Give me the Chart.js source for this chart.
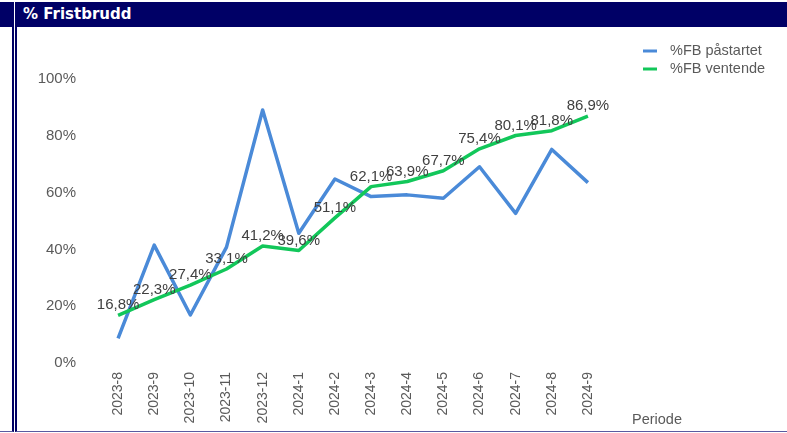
<!DOCTYPE html>
<html>
<head>
<meta charset="utf-8">
<script src="https://cdn.jsdelivr.net/npm/chart.js@4"></script>
<style>
  html, body { margin: 0; padding: 0; background: #fff; width: 787px; height: 433px; overflow: hidden; }
  .side { position: absolute; left: 0; top: 2px; width: 12px; height: 429px; border-right: 2px solid #000066; border-bottom: 1px solid #5a5aa0; }
  .side .bar { height: 25px; background: #000066; }
  .panel { position: absolute; left: 15px; top: 2px; width: 772px; height: 429px; border-left: 2px solid #000066; border-bottom: 1px solid #5a5aa0; }
  .title { height: 25px; background: #000066; color: #fff; font: bold 15px "DejaVu Sans", Verdana, sans-serif; line-height: 25px; padding-left: 6px; }
  .wrap { position: absolute; left: 0; top: 25px; width: 770px; height: 404px; }
</style>
</head>
<body>
<div class="side"><div class="bar"></div></div>
<div class="panel">
  <div class="title">% Fristbrudd</div>
  <div class="wrap"><canvas id="chart"></canvas></div>
</div>
<script>
const periods = ["2023-8", "2023-9", "2023-10", "2023-11", "2023-12", "2024-1", "2024-2",
  "2024-3", "2024-4", "2024-5", "2024-6", "2024-7", "2024-8", "2024-9"];
const fbPastartet = [8.7, 41.5, 16.9, 40.8, 89.1, 45.7, 64.8, 58.6, 59.2, 58.0, 69.1, 52.7, 75.2, 63.5];
const fbVentende = [16.8, 22.3, 27.4, 33.1, 41.2, 39.6, 51.1, 62.1, 63.9, 67.7, 75.4, 80.1, 81.8, 86.9];
const yTicks = [0, 20, 40, 60, 80, 100];

const FONT = "'Liberation Sans', Arial, sans-serif";
const BLUE = "#4a8ad8";
const GREEN = "#12c75a";

// value labels on the green series, legend and axis title
const extras = {
  id: "extras",
  afterDatasetsDraw(chart) {
    const ctx = chart.ctx;
    const meta = chart.getDatasetMeta(1);
    ctx.save();
    ctx.font = "15px " + FONT;
    ctx.fillStyle = "#404040";
    ctx.textAlign = "center";
    ctx.textBaseline = "middle";
    meta.data.forEach((pt, i) => {
      const txt = fbVentende[i].toFixed(1).replace(".", ",") + "%";
      ctx.fillText(txt, pt.x, pt.y - 10);
    });
    ctx.restore();
  },
  afterDraw(chart) {
    const ctx = chart.ctx;
    const area = chart.chartArea;
    ctx.save();
    // legend
    const lx = area.right + 37;
    chart.data.datasets.forEach((ds, i) => {
      const y = 24 + i * 18;
      ctx.strokeStyle = ds.borderColor;
      ctx.lineWidth = 3;
      ctx.beginPath();
      ctx.moveTo(lx, y);
      ctx.lineTo(lx + 14, y);
      ctx.stroke();
      ctx.font = "14.5px " + FONT;
      ctx.fillStyle = "#5a5a5a";
      ctx.textAlign = "left";
      ctx.textBaseline = "middle";
      ctx.fillText(ds.label, lx + 27, y);
    });
    // x axis title
    ctx.font = "14.5px " + FONT;
    ctx.fillStyle = "#5a5a5a";
    ctx.textAlign = "left";
    ctx.textBaseline = "middle";
    ctx.fillText("Periode", area.right + 26, chart.scales.x.bottom - 11);
    ctx.restore();
  },
};

new Chart(document.getElementById("chart"), {
  type: "line",
  data: {
    labels: periods,
    datasets: [
      {
        label: "%FB påstartet",
        data: fbPastartet,
        borderColor: BLUE,
        backgroundColor: BLUE,
        borderWidth: 3.5,
        borderJoinStyle: "round",
        pointRadius: 0,
        tension: 0,
        order: 1,
      },
      {
        label: "%FB ventende",
        data: fbVentende,
        borderColor: GREEN,
        backgroundColor: GREEN,
        borderWidth: 3.5,
        borderJoinStyle: "round",
        pointRadius: 0,
        tension: 0,
        order: 0,
      },
    ],
  },
  options: {
    responsive: true,
    maintainAspectRatio: false,
    animation: false,
    layout: { padding: { left: 0, right: 181, top: 52, bottom: 0 } },
    plugins: {
      legend: { display: false },
      tooltip: { enabled: false },
    },
    scales: {
      x: {
        offset: true,
        grid: { display: false, drawTicks: false },
        border: { display: false },
        ticks: {
          minRotation: 90,
          maxRotation: 90,
          autoSkip: false,
          padding: 9,
          color: "#5a5a5a",
          font: { family: FONT, size: 14 },
        },
        afterFit(scale) { scale.height = 68; },
      },
      y: {
        min: 0,
        max: 100,
        grid: { display: false, drawTicks: false },
        border: { display: false },
        afterBuildTicks(scale) { scale.ticks = yTicks.map((v) => ({ value: v })); },
        ticks: {
          padding: 24,
          color: "#5a5a5a",
          font: { family: FONT, size: 15 },
          callback: (v) => v + "%",
        },
        afterFit(scale) { scale.width = 83; },
      },
    },
  },
  plugins: [extras],
});
</script>
</body>
</html>
